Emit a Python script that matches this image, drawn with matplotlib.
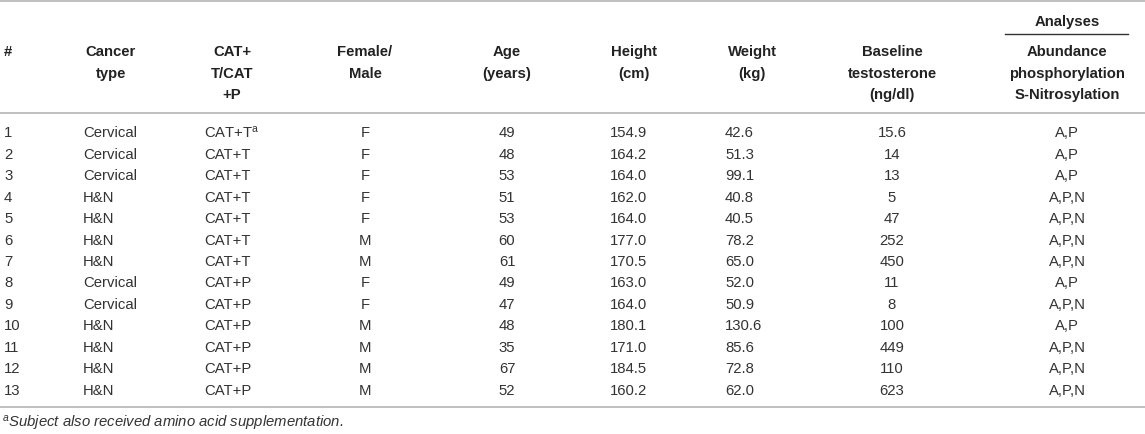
import matplotlib
matplotlib.use('Agg')
import matplotlib.pyplot as plt

plt.rcParams['font.family'] = ['Liberation Sans', 'DejaVu Sans']
plt.rcParams['mathtext.fontset'] = 'custom'
plt.rcParams['mathtext.rm'] = 'Liberation Sans'
plt.rcParams['mathtext.it'] = 'Liberation Sans:italic'

# table contents
subject = ['1', '2', '3', '4', '5', '6', '7', '8', '9', '10', '11', '12', '13']
cancer = ['Cervical', 'Cervical', 'Cervical', 'H&N', 'H&N', 'H&N', 'H&N',
          'Cervical', 'Cervical', 'H&N', 'H&N', 'H&N', 'H&N']
treatment = [r'CAT+T$^{\mathrm{a}}$', 'CAT+T', 'CAT+T', 'CAT+T', 'CAT+T', 'CAT+T', 'CAT+T',
             'CAT+P', 'CAT+P', 'CAT+P', 'CAT+P', 'CAT+P', 'CAT+P']
sex = ['F', 'F', 'F', 'F', 'F', 'M', 'M', 'F', 'F', 'M', 'M', 'M', 'M']
age = ['49', '48', '53', '51', '53', '60', '61', '49', '47', '48', '35', '67', '52']
height = ['154.9', '164.2', '164.0', '162.0', '164.0', '177.0', '170.5',
          '163.0', '164.0', '180.1', '171.0', '184.5', '160.2']
weight = ['42.6', '51.3', '99.1', '40.8', '40.5', '78.2', '65.0',
          '52.0', '50.9', '130.6', '85.6', '72.8', '62.0']
testosterone = ['15.6', '14', '13', '5', '47', '252', '450',
                '11', '8', '100', '449', '110', '623']
analyses = ['A,P', 'A,P', 'A,P', 'A,P,N', 'A,P,N', 'A,P,N', 'A,P,N',
            'A,P', 'A,P,N', 'A,P', 'A,P,N', 'A,P,N', 'A,P,N']

headers = ['#', 'Cancer\ntype', 'CAT+\nT/CAT\n+P', 'Female/\nMale', 'Age\n(years)',
           'Height\n(cm)', 'Weight\n(kg)', 'Baseline\ntestosterone\n(ng/dl)',
           'Abundance\nphosphorylation\nS-Nitrosylation']
footnote = 'Subject also received amino acid supplementation.'

columns = [subject, cancer, treatment, sex, age, height, weight, testosterone, analyses]
# (header x, header align, data x, data align)
layout = [(4, 'left', 4, 'left'),
          (111, 'center', 83, 'left'),
          (232, 'center', 204, 'left'),
          (365, 'center', 365, 'center'),
          (507, 'center', 507, 'center'),
          (634, 'center', 610, 'left'),
          (752, 'center', 725, 'left'),
          (892, 'center', 892, 'center'),
          (1067, 'center', 1067, 'center')]

W, H = 1145, 434
fig = plt.figure(figsize=(W / 100, H / 100), dpi=100)
ax = fig.add_axes([0, 0, 1, 1])
ax.set_xlim(0, W)
ax.set_ylim(H, 0)
ax.axis('off')

fs = 10.7
hcol = '#222222'
dcol = '#333333'
rule = '#b4b4b4'
half_cap = 5.3

# rules
ax.plot([0, W], [1, 1], color=rule, lw=1.2)
ax.plot([0, W], [113, 113], color=rule, lw=1.2)
ax.plot([0, W], [407, 407], color=rule, lw=1.2)
ax.plot([1005, 1128], [34, 34], color='#333333', lw=1.0)

ax.text(1067, 21 + half_cap, 'Analyses', ha='center', va='baseline', fontsize=fs,
        fontweight='bold', color=hcol)

for (hx, ha, dx, da), head, vals in zip(layout, headers, columns):
    for k, line in enumerate(head.split('\n')):
        ax.text(hx, 51 + k * 21.3 + half_cap, line, ha=ha, va='baseline',
                fontsize=fs, fontweight='bold', color=hcol)
    for i, v in enumerate(vals):
        ax.text(dx, 132 + i * 21.45 + half_cap, v, ha=da, va='baseline',
                fontsize=fs, color=dcol)

ax.text(2, 422 + half_cap, r'$^{\mathit{a}}$' + footnote, ha='left', va='baseline',
        fontsize=fs, style='italic', color=dcol)

plt.savefig('out.png', dpi=100)
plt.close()
